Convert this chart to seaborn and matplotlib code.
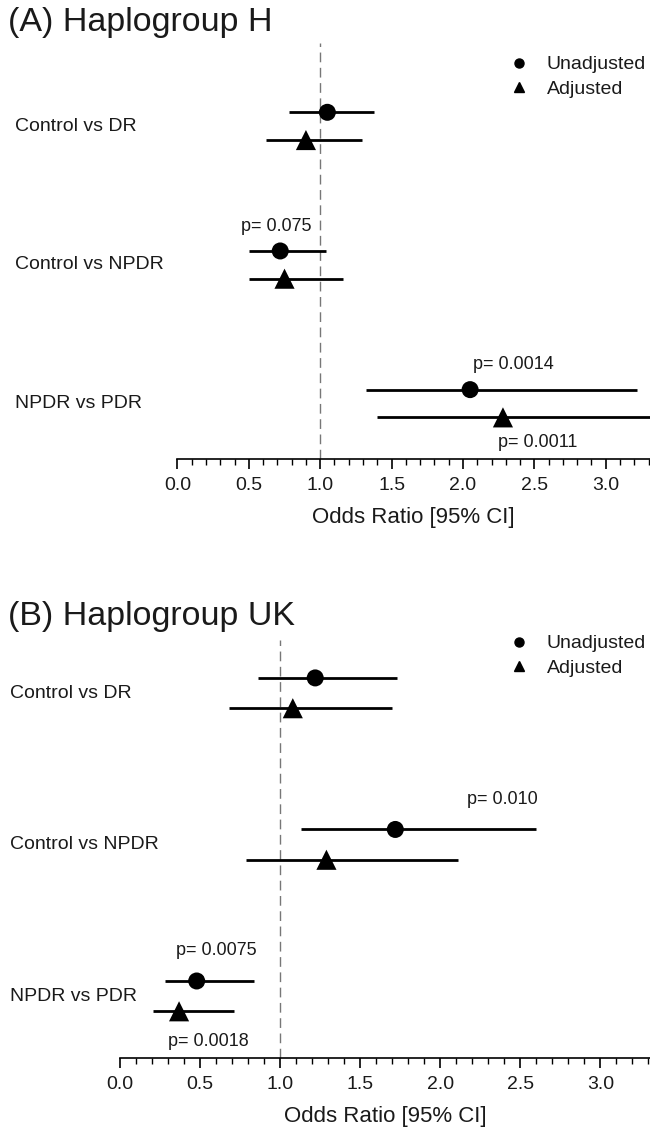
import matplotlib
matplotlib.use('Agg')
import matplotlib.pyplot as plt
import matplotlib.transforms as mtransforms
from matplotlib.lines import Line2D
import pandas as pd
import seaborn as sns

sns.set_style('white')
plt.rcParams['font.family'] = ['Liberation Sans', 'DejaVu Sans']

comparisons = ['Control vs DR', 'Control vs NPDR', 'NPDR vs PDR']
models = ['Unadjusted', 'Adjusted']

# Haplogroup H
h_unadj_or = [1.05, 0.72, 2.05]
h_unadj_lo = [0.78, 0.50, 1.32]
h_unadj_hi = [1.38, 1.04, 3.22]
h_adj_or = [0.90, 0.75, 2.28]
h_adj_lo = [0.62, 0.50, 1.40]
h_adj_hi = [1.29, 1.16, 3.70]
h_pvals = [('p= 0.075', 1, 'Unadjusted', 0.69),
           ('p= 0.0014', 2, 'Unadjusted', 2.35),
           ('p= 0.0011', 2, 'Adjusted', 2.52)]

# Haplogroup UK
uk_unadj_or = [1.22, 1.72, 0.48]
uk_unadj_lo = [0.86, 1.13, 0.28]
uk_unadj_hi = [1.73, 2.60, 0.84]
uk_adj_or = [1.08, 1.29, 0.37]
uk_adj_lo = [0.68, 0.79, 0.21]
uk_adj_hi = [1.70, 2.11, 0.71]
uk_pvals = [('p= 0.010', 1, 'Unadjusted', 2.39),
            ('p= 0.0075', 2, 'Unadjusted', 0.60),
            ('p= 0.0018', 2, 'Adjusted', 0.55)]

TXT = '#1a1a1a'
offset = {'Unadjusted': -0.1, 'Adjusted': 0.1}


def build(unadj, unlo, unhi, adj, alo, ahi):
    rows = []
    for i, c in enumerate(comparisons):
        rows.append(dict(comp=c, model='Unadjusted', OR=unadj[i], lo=unlo[i], hi=unhi[i]))
        rows.append(dict(comp=c, model='Adjusted', OR=adj[i], lo=alo[i], hi=ahi[i]))
    df = pd.DataFrame(rows)
    df['pos'] = df['comp'].map({c: i for i, c in enumerate(comparisons)}) + df['model'].map(offset)
    return df


def draw(ax, df, pvals, title, title_y, label_x, ylim, leg_anchor, txt_off):
    ax.axvline(1.0, color='#777777', lw=1, ls=(0, (7, 4)), zorder=1)
    ax.hlines(df['pos'], df['lo'], df['hi'], color='black', lw=2, zorder=2)
    sns.scatterplot(data=df, x='OR', y='pos', style='model', markers={'Unadjusted': 'o', 'Adjusted': '^'},
                    size='model', sizes={'Unadjusted': 150, 'Adjusted': 210},
                    color='black', edgecolor='black', linewidth=0, legend=False, ax=ax, zorder=3)
    ax.set_xlim(0, 3.31)
    ax.set_ylim(*ylim)
    ax.set_yticks([])
    ax.set_ylabel('')
    for s in ['left', 'top', 'right']:
        ax.spines[s].set_visible(False)
    ax.spines['bottom'].set_color('black')
    ax.spines['bottom'].set_linewidth(1.2)
    ax.set_xticks([0, 0.5, 1.0, 1.5, 2.0, 2.5, 3.0])
    ax.set_xticklabels(['0.0', '0.5', '1.0', '1.5', '2.0', '2.5', '3.0'], color=TXT, fontsize=14)
    ax.set_xticks([i / 10 for i in range(34)], minor=True)
    ax.tick_params(axis='x', which='major', direction='out', length=7, width=1.2, color='black', bottom=True, pad=6)
    ax.tick_params(axis='x', which='minor', direction='out', length=4, width=1, color='black', bottom=True)
    ax.set_xlabel('Odds Ratio [95% CI]', fontsize=16, color=TXT, labelpad=9)

    trans = mtransforms.blended_transform_factory(fig.transFigure, ax.transData)
    for i, c in enumerate(comparisons):
        ax.text(label_x, i, c, transform=trans, ha='left', va='center', fontsize=14, color=TXT)

    for txt, i, m, x in pvals:
        y = i + offset[m] + (txt_off if m == 'Adjusted' else -txt_off)
        ax.text(x, y, txt, ha='center', va='center', fontsize=13, color=TXT)

    fig.text(0.012, title_y, title, ha='left', va='center', fontsize=24.5, color=TXT)

    handles = [Line2D([], [], marker='o', ls='none', color='black', markersize=6.5),
               Line2D([], [], marker='^', ls='none', color='black', markersize=7)]
    ax.legend(handles, models, loc='upper left', bbox_to_anchor=leg_anchor, bbox_transform=fig.transFigure,
              frameon=False, fontsize=14, handlelength=1.0, handletextpad=0.9, borderpad=0,
              labelspacing=0.35, labelcolor=TXT)


fig = plt.figure(figsize=(6.5, 11.31), dpi=100)
ax1 = fig.add_axes([0.273, 0.5942, 0.727, 0.962 - 0.5942])
ax2 = fig.add_axes([0.1843, 0.0643, 0.8157, 0.4341 - 0.0643])

df_h = build(h_unadj_or, h_unadj_lo, h_unadj_hi, h_adj_or, h_adj_lo, h_adj_hi)
df_uk = build(uk_unadj_or, uk_unadj_lo, uk_unadj_hi, uk_adj_or, uk_adj_lo, uk_adj_hi)

draw(ax1, df_h, h_pvals, '(A) Haplogroup H', 1 - 22 / 1131, 15 / 650, (2.4, -0.6),
     (500 / 650, 1 - 46 / 1131), 0.18)
draw(ax2, df_uk, uk_pvals, '(B) Haplogroup UK', 1 - 617 / 1131, 10 / 650, (2.41, -0.35),
     (500 / 650, 1 - 625 / 1131), 0.2)

fig.savefig('out.png', dpi=100)
